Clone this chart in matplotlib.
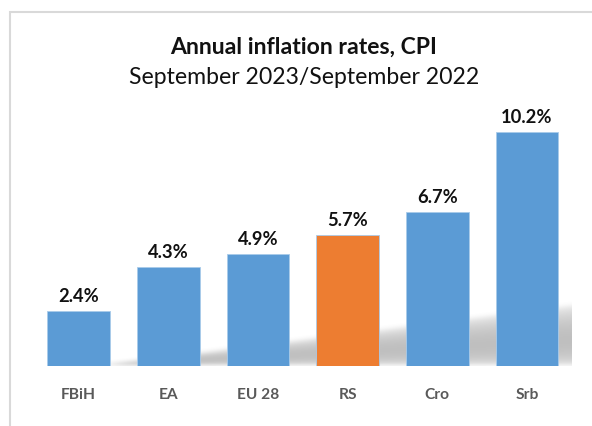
"""Annual inflation rates bar chart, CPI Sep 2023 / Sep 2022."""

import matplotlib
matplotlib.use("Agg")
import matplotlib.pyplot as plt
import numpy as np
from matplotlib.patches import Rectangle


categories = ["FBiH", "EA", "EU 28", "RS", "Cro", "Srb"]
rates = [2.4, 4.3, 4.9, 5.7, 6.7, 10.2]
labels = ["2.4%", "4.3%", "4.9%", "5.7%", "6.7%", "10.2%"]
highlight = "RS"

BLUE = "#5B9BD5"
ORANGE = "#ED7D31"
FONT = ["Lato", "DejaVu Sans"]


def soft_shadow(ax, x0, x1, top):
    """Draw a blurred wedge-shaped floor shadow behind the bars."""
    nx, ny = 700, 140
    ymax = top * 1.25
    xs = np.linspace(x0, x1, nx)
    ys = np.linspace(0, ymax, ny)
    gx, gy = np.meshgrid(xs, ys)
    h = np.clip((gx - x0) / (x1 - x0), 0, 1) * top
    h = np.maximum(h, 1e-6)
    r = gy / h
    inside = r < 1.0
    alpha = np.where(inside, 0.5 * np.sin(np.pi * np.clip(r, 0, 1) ** 0.8) ** 0.5, 0.0)
    # box blur along both axes
    k = np.ones(9) / 9.0
    for _ in range(2):
        alpha = np.apply_along_axis(lambda v: np.convolve(v, k, mode="same"), 1, alpha)
        alpha = np.apply_along_axis(lambda v: np.convolve(v, k, mode="same"), 0, alpha)
    rgba = np.zeros((ny, nx, 4))
    rgba[..., :3] = 0.5
    rgba[..., 3] = alpha
    ax.imshow(rgba, extent=(x0, x1, 0, ymax), origin="lower", aspect="auto",
              zorder=1, interpolation="bilinear")


fig = plt.figure(figsize=(5.92, 4.27), dpi=100)
fig.patch.set_facecolor("white")

# chart frame, cut off at right and bottom as in the screenshot
fig.add_artist(Rectangle((10 / 592, -0.1), 1.2, (427 - 13) / 427 + 0.1,
                         transform=fig.transFigure, fill=False,
                         edgecolor="#D9D9D9", linewidth=1.5))

ax = fig.add_axes([0.0568, 0.1405, 0.9093, 0.645])
x = np.arange(len(categories))
colors = [ORANGE if c == highlight else BLUE for c in categories]

soft_shadow(ax, 0.2, 5.56, 2.7)
ax.bar(x, rates, width=0.70, color=colors, edgecolor="#A9CBEA",
       linewidth=0.6, zorder=3)

for xi, val, lab in zip(x, rates, labels):
    ax.annotate(lab, (xi, val), xytext=(0, 5), textcoords="offset points",
                ha="center", va="bottom", fontsize=13.2, fontweight="bold",
                family=FONT, color="#111111")

ax.set_xlim(-0.5, 5.5)
ax.set_ylim(0, 12)
ax.set_xticks(x)
ax.set_xticklabels(categories, family=FONT, fontsize=11.2,
                   fontweight="bold", color="#595959")
ax.tick_params(axis="x", length=0, pad=15)
ax.set_yticks([])
for spine in ax.spines.values():
    spine.set_visible(False)
ax.patch.set_alpha(0)

fig.text(304 / 592, 1 - 47 / 427, "Annual inflation rates, CPI", ha="center",
         va="center", fontsize=16.6, fontweight="bold", family=FONT, color="#111111")
fig.text(304 / 592, 1 - 77 / 427, "September 2023/September 2022", ha="center",
         va="center", fontsize=16.6, family=FONT, color="#111111")

fig.savefig("out.png", dpi=100)
